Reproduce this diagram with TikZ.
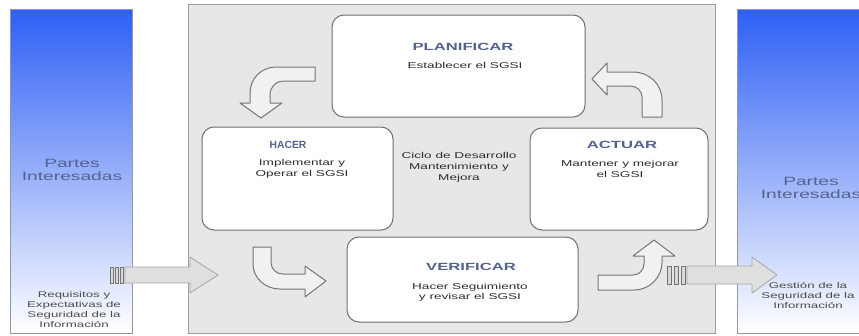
\documentclass[tikz,border=0pt]{standalone}
\usepackage{fontspec}
\setmainfont[FakeStretch=1.6]{Liberation Sans}
\usepackage{tikz}

\definecolor{panelblue}{RGB}{45,95,245}
\definecolor{panelmid}{RGB}{165,182,246}
\definecolor{framegray}{RGB}{150,150,162}
\definecolor{cyclegray}{RGB}{231,231,231}
\definecolor{boxline}{RGB}{112,112,112}
\definecolor{titleblue}{RGB}{84,98,142}
\definecolor{textgray}{RGB}{45,45,45}
\definecolor{arrowline}{RGB}{118,118,118}
\definecolor{arrowfill}{RGB}{241,241,241}

\begin{document}
\begin{tikzpicture}[x=1pt,y=-1pt,
    panel/.style={draw=framegray,line width=0.8pt,top color=panelblue,middle color=panelmid,bottom color=white},
    cyclebox/.style={draw=boxline,line width=1pt,fill=white,rounded corners=12pt,inner sep=0pt},
    bentarrow/.style={draw=arrowline,fill=arrowfill,line width=1pt,line join=round},
    flowarrow/.style={draw=gray!70,fill=gray!25,line width=0.8pt,line join=round},
    stripe/.style={draw=gray!90!black,fill=gray!30,line width=0.6pt},
    title/.style={inner sep=0pt,font=\fontsize{10.4}{12}\selectfont\bfseries,text=titleblue},
    body/.style={inner sep=0pt,align=center,font=\fontsize{8.5}{11}\selectfont,text=textgray},
    partes/.style={inner sep=0pt,align=center,font=\fontsize{12}{13}\selectfont,text=titleblue},
    small/.style={inner sep=0pt,align=center,font=\fontsize{8.3}{10}\selectfont,text=textgray!85}]

  \useasboundingbox (0,0) rectangle (859,335);
  \clip (0,0) rectangle (859,335);

  % partes interesadas y ciclo
  \node[panel,minimum width=122pt,minimum height=324pt] (izq) at (71,171) {};
  \node[panel,minimum width=150pt,minimum height=324pt] (der) at (812,171) {};
  \node[draw=gray!75,line width=0.8pt,fill=cyclegray,minimum width=527pt,minimum height=329pt] (ciclo) at (451.5,168.5) {};

  % fases
  \node[cyclebox,minimum width=253pt,minimum height=102pt] (plan) at (458.5,66) {};
  \node[cyclebox,minimum width=191pt,minimum height=103pt] (hacer) at (297.5,178.5) {};
  \node[cyclebox,minimum width=178pt,minimum height=102pt] (actuar) at (619,179) {};
  \node[cyclebox,minimum width=231pt,minimum height=85pt] (verif) at (462.5,279.5) {};

  % flechas del ciclo
  \draw[bentarrow] (315,67) -- (276,67) .. controls (262,67) and (250,78) .. (250,93)
      -- (250,103) -- (240,103) -- (261,118) -- (282,103) -- (270,103) -- (270,95)
      .. controls (270,87) and (276,81) .. (283,81) -- (315,81) -- cycle;
  \draw[bentarrow] (253,247) -- (253,264) .. controls (253,278) and (265,289) .. (280,289)
      -- (305,289) -- (305,297) -- (326,281) -- (305,266) -- (305,274) -- (283,274)
      .. controls (276,274) and (271,269) .. (271,262) -- (271,247) -- cycle;
  \draw[bentarrow] (598,275) -- (633,275) .. controls (639,275) and (644,270) .. (644,264)
      -- (644,256) -- (633,256) -- (654,240) -- (675,256) -- (662,256) -- (662,262)
      .. controls (662,277) and (650,290) .. (634,290) -- (598,290) -- cycle;
  \draw[bentarrow] (642,117) -- (642,97) .. controls (642,91) and (637,86) .. (630,86)
      -- (607,86) -- (607,95) -- (592,79) -- (607,63) -- (607,72) -- (633,72)
      .. controls (649,72) and (662,84) .. (662,100) -- (662,117) -- cycle;

  % entrada y salida
  \draw[flowarrow] (125,267) -- (190,267) -- (190,257) -- (218,275) -- (190,293) -- (190,283) -- (125,283) -- cycle;
  \draw[stripe] (110,267) rectangle (113,283);
  \draw[stripe] (115,267) rectangle (118,283);
  \draw[stripe] (120,267) rectangle (123,283);
  \draw[flowarrow] (687,266) -- (752,266) -- (752,257) -- (777,275) -- (752,293) -- (752,284) -- (687,284) -- cycle;
  \draw[stripe] (667,266) rectangle (671,284);
  \draw[stripe] (674,266) rectangle (678,284);
  \draw[stripe] (681,266) rectangle (685,284);

  % textos
  \node[title] (plantit) at (463,47) {PLANIFICAR};
  \node[body] (plantxt) at (465,65) {Establecer el SGSI};
  \node[title] (hacertit) at (288,145) {\scalebox{0.62}[1]{HACER}};
  \node[body] (hacertxt) at (302,169) {Implementar y\\Operar el SGSI};
  \node[title] (actuartit) at (622,145) {ACTUAR};
  \node[body] (actuartxt) at (620,169) {Mantener y mejorar\\el SGSI};
  \node[title] (veriftit) at (471,267) {VERIFICAR};
  \node[body,font=\fontsize{8.5}{10}\selectfont] (veriftxt) at (470,292) {Hacer Seguimiento\\y revisar el SGSI};
  \node[body] (ciclotxt) at (459,167) {Ciclo de Desarrollo\\Mantenimiento y\\Mejora};

  \node[partes] (izqtxt) at (72,170) {Partes\\Interesadas};
  \node[small] (requisitos) at (74,310) {Requisitos y\\Expectativas de\\Seguridad de la\\Información};
  \node[partes] (dertxt) at (811,188) {Partes\\Interesadas};
  \node[small] (gestion) at (808,295) {Gestión de la\\Seguridad de la\\Información};
\end{tikzpicture}
\end{document}
